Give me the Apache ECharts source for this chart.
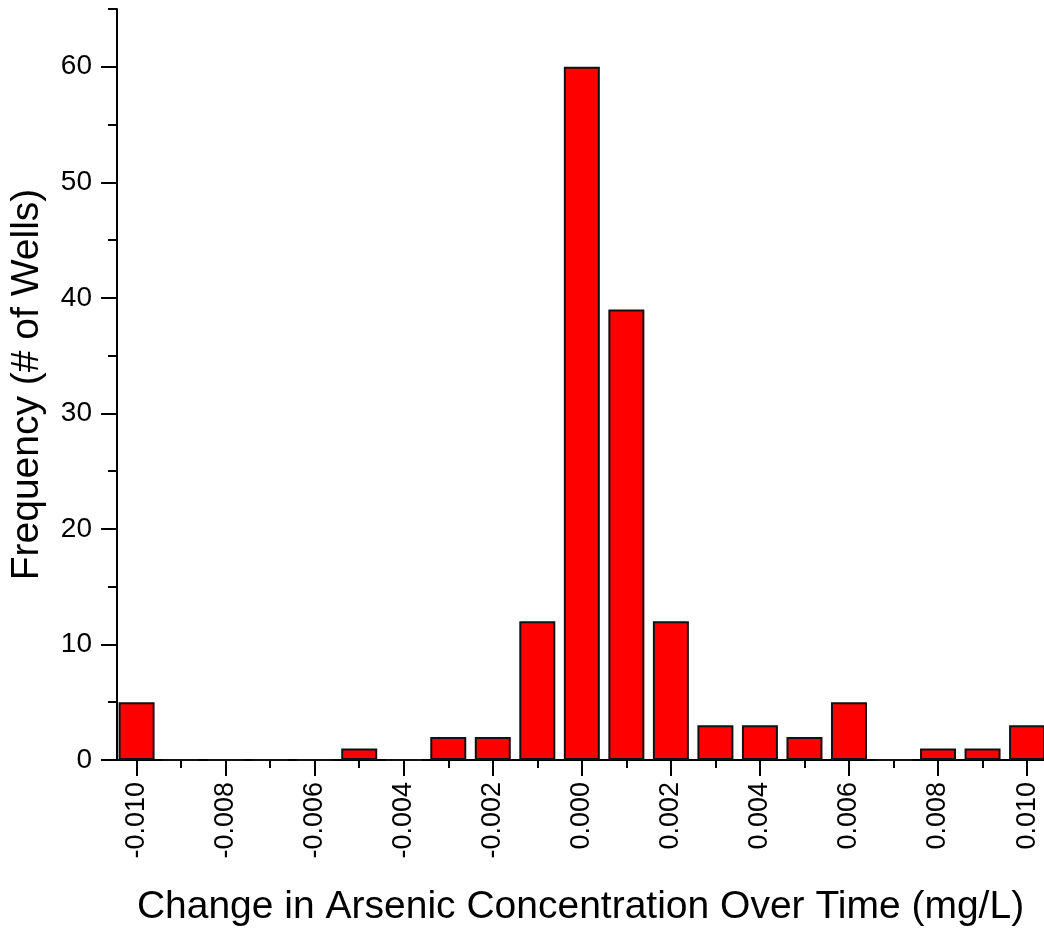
<!DOCTYPE html>
<html>
<head>
<meta charset="utf-8">
<script src="https://cdn.jsdelivr.net/npm/echarts@6/dist/echarts.min.js"></script>
<style>
html,body{margin:0;padding:0;background:#fff;}
#chart{width:1044px;height:933px;}
</style>
</head>
<body>
<div id="chart"></div>
<script>
// Bin centres (mg/L) and frequencies
const binCenters = [-0.010,-0.009,-0.008,-0.007,-0.006,-0.005,-0.004,-0.003,-0.002,-0.001,0.000,0.001,0.002,0.003,0.004,0.005,0.006,0.007,0.008,0.009,0.010];
const frequencies = [5,0,0,0,0,1,0,2,2,12,60,39,12,3,3,2,5,0,1,1,3];
const xMajorTicks = [-0.010,-0.008,-0.006,-0.004,-0.002,0.000,0.002,0.004,0.006,0.008,0.010];
const xMinorTicks = [-0.009,-0.007,-0.005,-0.003,-0.001,0.001,0.003,0.005,0.007,0.009];
const yMajorTicks = [0,10,20,30,40,50,60];
const yMinorTicks = [5,15,25,35,45,55,65];
const xTitle = 'Change in Arsenic Concentration Over Time (mg/L)';
const yTitle = 'Frequency (# of Wells)';

const FONT = "'Liberation Sans', Arial, sans-serif";
const X_MIN = -0.01044, X_MAX = 0.01038, Y_MIN = 0, Y_MAX = 65;

const chart = echarts.init(document.getElementById('chart'), null, {renderer:'canvas'});
const data = binCenters.map((x,i)=>[x, frequencies[i]]);

function xAxisBase(){
  return {type:'value', min:X_MIN, max:X_MAX, splitLine:{show:false}, gridIndex:0};
}
function yAxisBase(){
  return {type:'value', min:Y_MIN, max:Y_MAX, splitLine:{show:false}, gridIndex:0};
}

chart.setOption({
  animation:false,
  backgroundColor:'#ffffff',
  grid:{left:117, right:0, top:9, bottom:173, containLabel:false, outerBoundsMode:'none'},
  xAxis:[
    Object.assign(xAxisBase(), {
      position:'bottom',
      axisLine:{show:true, onZero:false, lineStyle:{color:'#000', width:2}},
      axisTick:{show:true, customValues:xMajorTicks, length:16, lineStyle:{color:'#000', width:2}},
      axisLabel:{show:true, customValues:xMajorTicks, rotate:90, margin:22, color:'#000', fontSize:27, fontFamily:FONT,
        formatter:(v)=>Number(v).toFixed(3)},
      name:xTitle, nameLocation:'middle', nameGap:128,
      nameTextStyle:{color:'#000', fontSize:39, fontFamily:FONT}
    }),
    Object.assign(xAxisBase(), {
      position:'bottom',
      axisLine:{show:false, onZero:false},
      axisTick:{show:true, customValues:xMinorTicks, length:8, lineStyle:{color:'#000', width:2}},
      axisLabel:{show:false}
    })
  ],
  yAxis:[
    Object.assign(yAxisBase(), {
      position:'left',
      axisLine:{show:true, onZero:false, lineStyle:{color:'#000', width:2}},
      axisTick:{show:true, customValues:yMajorTicks, length:16, lineStyle:{color:'#000', width:2}},
      axisLabel:{show:true, customValues:yMajorTicks, margin:25, color:'#000', fontSize:28, fontFamily:FONT},
      name:yTitle, nameLocation:'middle', nameGap:70,
      nameTextStyle:{color:'#000', fontSize:39, fontFamily:FONT}
    }),
    Object.assign(yAxisBase(), {
      position:'left',
      axisLine:{show:false, onZero:false},
      axisTick:{show:true, customValues:yMinorTicks, length:9, lineStyle:{color:'#000', width:2}},
      axisLabel:{show:false}
    })
  ],
  series:[{
    type:'bar',
    xAxisIndex:0, yAxisIndex:0,
    data:data,
    barWidth:36,
    itemStyle:{color:'#ff0000', borderColor:'#111', borderWidth:2},
    z:1
  }]
});
</script>
</body>
</html>
